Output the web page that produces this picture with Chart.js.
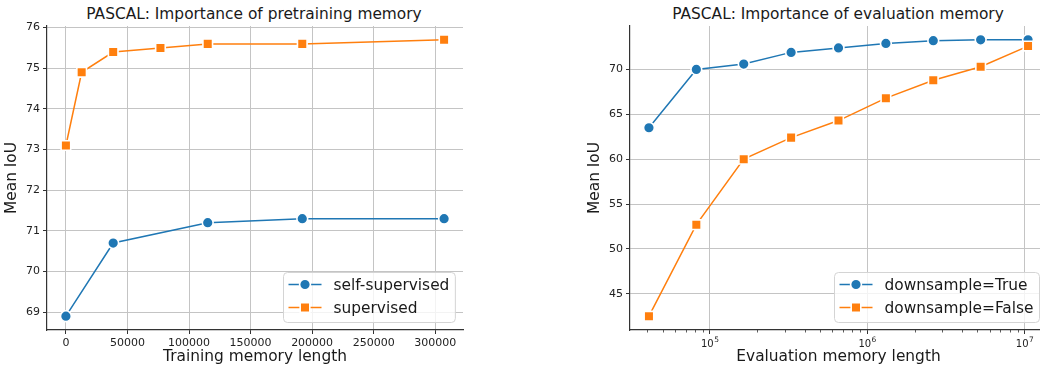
<!DOCTYPE html>
<html><head><meta charset="utf-8">
<script src="https://cdn.jsdelivr.net/npm/chart.js@4.4.1/dist/chart.umd.min.js"></script>
<style>
html,body{margin:0;padding:0;background:#fff;width:1040px;height:368px;overflow:hidden;}
#wrap{position:relative;width:1040px;height:368px;overflow:hidden;}
canvas{position:absolute;top:0;}
.title{position:absolute;top:5px;font-family:"DejaVu Sans";font-size:15.4px;line-height:18px;color:#1a1a1a;white-space:nowrap;transform:translateX(-50%);}
</style></head><body>
<div id="wrap">
<div class="title" style="left:254px">PASCAL: Importance of pretraining memory</div>
<div class="title" style="left:838px">PASCAL: Importance of evaluation memory</div>
<canvas id="c1" width="480" height="368" style="left:0"></canvas>
<canvas id="c2" width="480" height="368" style="left:580px"></canvas>
</div>
<script>
// ---- data ----
const trainMemSelfSup = [0, 38400, 115200, 192000, 307200];
const miouSelfSup = [68.9, 70.7, 71.2, 71.3, 71.3];
const trainMemSup = [0, 12800, 38400, 76800, 115200, 192000, 307200];
const miouSup = [73.1, 74.9, 75.4, 75.5, 75.6, 75.6, 75.7];
const evalMem = [40960, 81920, 163840, 327680, 655360, 1310720, 2621440, 5242880, 10485760];
const miouDownTrue = [63.5, 70.0, 70.6, 71.9, 72.4, 72.9, 73.2, 73.3, 73.3];
const miouDownFalse = [42.5, 52.7, 60.0, 62.4, 64.3, 66.8, 68.8, 70.3, 72.6];
const leftXTicks = [0, 50000, 100000, 150000, 200000, 250000, 300000];
const leftYTicks = [69, 70, 71, 72, 73, 74, 75, 76];
const rightXTicks = [1e5, 1e6, 1e7];
const rightXTickBase = ['10', '10', '10'];
const rightXTickExp = ['5', '6', '7'];
const rightXMinorTicks = [4e4,5e4,6e4,7e4,8e4,9e4,2e5,3e5,4e5,5e5,6e5,7e5,8e5,9e5,2e6,3e6,4e6,5e6,6e6,7e6,8e6,9e6];
const rightYTicks = [45, 50, 55, 60, 65, 70];
const labelsLeft = ['self-supervised', 'supervised'];
const labelsRight = ['downsample=True', 'downsample=False'];

const BLUE = '#1f77b4', ORANGE = '#ff7f0e';
const FONT = 'DejaVu Sans';
Chart.defaults.font.family = FONT;

function pts(xs, ys){ return xs.map((x,i)=>({x:x, y:ys[i]})); }

function series(label, data, color, style, order){
  return {label, data, borderColor:color, backgroundColor:color, borderWidth:1.5,
    pointStyle:style, pointRadius: style==='rect'?6.8:5.4, pointHoverRadius: style==='rect'?6.8:5.4,
    pointBackgroundColor:color, pointBorderColor:'#fff', pointBorderWidth:1.6,
    tension:0, fill:false, order:order, clip:false};
}

const insideLegend = {
  id:'insideLegend',
  afterDatasetsDraw(chart){
    const ctx = chart.ctx, a = chart.chartArea;
    const fs = 15.4;
    ctx.save();
    ctx.font = fs + 'px "' + FONT + '"';
    const ds = chart.data.datasets;
    const tw = Math.max(...ds.map(d => ctx.measureText(d.label).width));
    const pad = 5.5, handle = 33, gap = 12;
    const w = pad + handle + gap + tw + pad, h = 50;
    const x = Math.round(a.right - 8 - w), y = Math.round(a.bottom - 8 - h);
    ctx.beginPath();
    ctx.roundRect(x + 0.5, y + 0.5, w, h, 4);
    ctx.fillStyle = 'rgba(255,255,255,0.8)'; ctx.fill();
    ctx.strokeStyle = '#d4d4d4'; ctx.lineWidth = 1; ctx.stroke();
    ds.forEach((d, i) => {
      const cy = y + 12.5 + i * 23;
      const hx = x + pad;
      ctx.strokeStyle = d.borderColor; ctx.lineWidth = d.borderWidth;
      ctx.beginPath(); ctx.moveTo(hx, cy); ctx.lineTo(hx + handle, cy); ctx.stroke();
      const mx = hx + handle / 2;
      ctx.fillStyle = d.pointBackgroundColor; ctx.strokeStyle = '#fff'; ctx.lineWidth = d.pointBorderWidth;
      ctx.beginPath();
      if (d.pointStyle === 'rect') { const s = d.pointRadius * Math.SQRT1_2; ctx.rect(mx - s, cy - s, 2 * s, 2 * s); }
      else ctx.arc(mx, cy, d.pointRadius, 0, Math.PI * 2);
      ctx.fill(); ctx.stroke();
      ctx.fillStyle = '#1a1a1a'; ctx.textBaseline = 'middle'; ctx.textAlign = 'left';
      ctx.fillText(d.label, hx + handle + gap, cy + 1);
    });
    ctx.restore();
  }
};

// minor tick marks and power-of-ten labels for the log axis
const logAxisDeco = {
  id:'logAxisDeco',
  afterDraw(chart){
    const s = chart.scales.x, ctx = chart.ctx;
    ctx.save(); ctx.strokeStyle = '#333'; ctx.lineWidth = 0.8;
    rightXMinorTicks.forEach(v => {
      if (v < s.min || v > s.max) return;
      const px = Math.round(s.getPixelForValue(v)) + 0.5;
      ctx.beginPath(); ctx.moveTo(px, s.top); ctx.lineTo(px, s.top + 2.5); ctx.stroke();
    });
    ctx.fillStyle = '#222'; ctx.textBaseline = 'alphabetic'; ctx.textAlign = 'left';
    rightXTicks.forEach((v, i) => {
      const px = s.getPixelForValue(v);
      ctx.font = '10px "' + FONT + '"';
      const wb = ctx.measureText(rightXTickBase[i]).width;
      ctx.font = '7.5px "' + FONT + '"';
      const we = ctx.measureText(rightXTickExp[i]).width;
      const start = px - (wb + we + 0.5) / 2;
      ctx.font = '10px "' + FONT + '"';
      ctx.fillText(rightXTickBase[i], start, s.top + 16.5);
      ctx.font = '7.5px "' + FONT + '"';
      ctx.fillText(rightXTickExp[i], start + wb + 0.5, s.top + 12);
    });
    ctx.restore();
  }
};

function gridOpts(){ return {color:'#c4c4c4', lineWidth:1, tickColor:'#333', tickLength:4, tickWidth:1}; }
function tickFont(){ return {family:FONT, size:11}; }
function titleOpts(text, pad){ return {display:true, text:text, color:'#1a1a1a', font:{family:FONT, size:15.4}, padding:pad}; }

new Chart(document.getElementById('c1'), {
  type:'line',
  data:{datasets:[
    series(labelsLeft[0], pts(trainMemSelfSup, miouSelfSup), BLUE, 'circle', 1),
    series(labelsLeft[1], pts(trainMemSup, miouSup), ORANGE, 'rect', 0)
  ]},
  options:{
    responsive:false, animation:false, devicePixelRatio:1,
    layout:{padding:{top:26, right:17, left:0, bottom:0}},
    plugins:{legend:{display:false}, tooltip:{enabled:false}, title:{display:false}},
    scales:{
      x:{type:'linear', min:-15360, max:322560,
        afterBuildTicks:s=>{ s.ticks = leftXTicks.map(v=>({value:v})); },
        afterFit:s=>{ s.height = 38; },
        ticks:{callback:v=>String(v), font:tickFont(), color:'#222', padding:3, maxRotation:0, autoSkip:false},
        grid:gridOpts(), border:{color:'#333', width:1.2},
        title:titleOpts('Training memory length', {top:0, bottom:2})},
      y:{type:'linear', min:68.56, max:76.04,
        afterBuildTicks:s=>{ s.ticks = leftYTicks.map(v=>({value:v})); },
        afterFit:s=>{ s.width = 47; },
        ticks:{callback:v=>String(v), font:tickFont(), color:'#222', padding:3, autoSkip:false},
        grid:gridOpts(), border:{color:'#333', width:1.2},
        title:titleOpts('Mean IoU', {top:3, bottom:0})}
    }
  },
  plugins:[insideLegend]
});

new Chart(document.getElementById('c2'), {
  type:'line',
  data:{datasets:[
    series(labelsRight[0], pts(evalMem, miouDownTrue), BLUE, 'circle', 1),
    series(labelsRight[1], pts(evalMem, miouDownFalse), ORANGE, 'rect', 0)
  ]},
  options:{
    responsive:false, animation:false, devicePixelRatio:1,
    layout:{padding:{top:26, right:13, left:0, bottom:0}},
    plugins:{legend:{display:false}, tooltip:{enabled:false}, title:{display:false}},
    scales:{
      x:{type:'logarithmic', min:31046, max:13836000,
        afterBuildTicks:s=>{ s.ticks = rightXTicks.map(v=>({value:v})); },
        afterFit:s=>{ s.height = 38; },
        ticks:{callback:()=>'', font:tickFont(), color:'#222', padding:3, maxRotation:0, autoSkip:false},
        grid:gridOpts(), border:{color:'#333', width:1.2},
        title:titleOpts('Evaluation memory length', {top:0, bottom:2})},
      y:{type:'linear', min:40.96, max:74.84,
        afterBuildTicks:s=>{ s.ticks = rightYTicks.map(v=>({value:v})); },
        afterFit:s=>{ s.width = 50; },
        ticks:{callback:v=>String(v), font:tickFont(), color:'#222', padding:3, autoSkip:false},
        grid:gridOpts(), border:{color:'#333', width:1.2},
        title:titleOpts('Mean IoU', {top:6, bottom:0})}
    }
  },
  plugins:[insideLegend, logAxisDeco]
});
</script>
</body></html>
